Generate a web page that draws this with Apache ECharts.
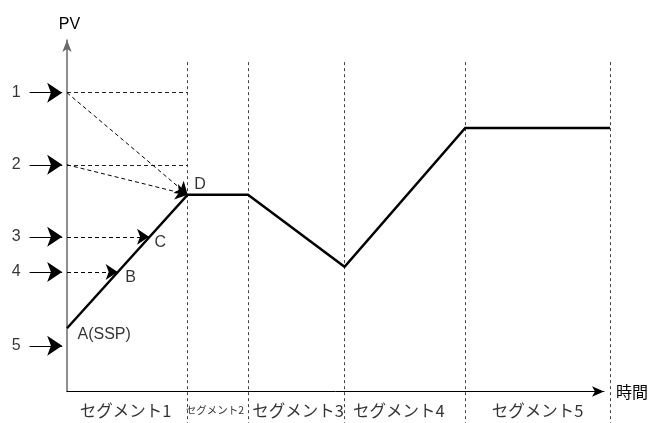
<!DOCTYPE html>
<html>
<head>
<meta charset="utf-8">
<script src="https://cdn.jsdelivr.net/npm/echarts@6/dist/echarts.min.js"></script>
<style>
html,body{margin:0;padding:0;background:#fff;}
#chart{width:651px;height:423px;}
</style>
</head>
<body>
<div id="chart"></div>
<script>
// ---- data ----
const segmentNames = ['セグメント1', 'セグメント2', 'セグメント3', 'セグメント4', 'セグメント5'];
const segmentEnds = [10, 15, 23, 33, 45];              // time at end of each segment
const segmentLabelTime = [4.85, 12.25, 19.15, 27.5, 39]; // label centres
const profileTime = [0, 10, 15, 23, 33, 45];
const profilePV = [18, 56, 56, 35.5, 75, 75];
const levelNames = ['1', '2', '3', '4', '5'];
const levelPV = [85, 64.5, 44, 34, 13];
const pointNames = ['A(SSP)', 'B', 'C', 'D'];
const pointTime = [0, 4.2, 6.8, 10];
const pointPV = [18, 34, 44, 56];
const axisNames = { x: '時間', y: 'PV' };

// ---- layout constants ----
const guideTop = 93.7, guideBottom = -9.5;
const arrowFrom = -3.1, arrowTo = -0.4, levelLabelX = -4.2, segLabelY = -5.4;
const latin = "'Liberation Sans', Arial, sans-serif";
const cjk = "'Noto Sans CJK JP', sans-serif";

const chart = echarts.init(document.getElementById('chart'), null, { renderer: 'canvas' });

const vGuides = segmentEnds.map(t => ({ coords: [[t, guideTop], [t, guideBottom]] }));
const hGuides = [0, 1].map(i => ({ coords: [[0, levelPV[i]], [segmentEnds[0], levelPV[i]]] }));
const levelArrows = levelPV.map(v => ({ coords: [[arrowFrom, v], [arrowTo, v]] }));
const Didx = 3;
const dashArrows = [
  { coords: [[0, levelPV[0]], [pointTime[Didx], pointPV[Didx]]] },
  { coords: [[0, levelPV[1]], [pointTime[Didx], pointPV[Didx]]] },
  { coords: [[0, levelPV[2]], [pointTime[2], pointPV[2]]] },
  { coords: [[0, levelPV[3]], [pointTime[1], pointPV[1]]] }
];
const pointLabelStyle = [
  { offset: [10, 6] }, { offset: [7, 6] }, { offset: [5, 6] }, { offset: [6, -10] }
];

const option = {
  animation: false,
  backgroundColor: '#fff',
  grid: { left: 67, right: 46, top: 40, bottom: 31.5 },
  xAxis: {
    type: 'value', min: 0, max: 44.5,
    name: axisNames.x, nameLocation: 'end', nameGap: 12,
    nameTextStyle: { fontFamily: cjk, fontSize: 16, color: '#000' },
    axisLine: { show: true, onZero: false, symbol: ['none', 'arrow'], symbolSize: [8, 12], lineStyle: { color: '#000', width: 1 } },
    axisTick: { show: false }, axisLabel: { show: false }, splitLine: { show: false }
  },
  yAxis: {
    type: 'value', min: 0, max: 100,
    name: axisNames.y, nameLocation: 'end', nameGap: 7,
    nameTextStyle: { fontFamily: latin, fontSize: 16, color: '#000', padding: [0, 0, 0, 5] },
    axisLine: { show: true, onZero: false, symbol: ['none', 'arrow'], symbolSize: [7, 12], lineStyle: { color: '#6a6a6a', width: 1.5 } },
    axisTick: { show: false }, axisLabel: { show: false }, splitLine: { show: false }
  },
  series: [
    {
      type: 'lines', coordinateSystem: 'cartesian2d', clip: false, silent: true,
      lineStyle: { color: '#444', width: 1, type: [3, 3], opacity: 1 },
      data: vGuides
    },
    {
      type: 'lines', coordinateSystem: 'cartesian2d', clip: false, silent: true,
      lineStyle: { color: '#222', width: 1, type: [4, 3], opacity: 1 },
      data: hGuides
    },
    {
      type: 'lines', coordinateSystem: 'cartesian2d', clip: false, silent: true,
      symbol: ['none', 'arrow'], symbolSize: [10, 15],
      lineStyle: { color: '#000', width: 1.2, type: 'solid', opacity: 1 },
      data: levelArrows
    },
    {
      type: 'lines', coordinateSystem: 'cartesian2d', clip: false, silent: true,
      symbol: ['none', 'arrow'], symbolSize: [8, 12],
      lineStyle: { color: '#000', width: 1, type: [4, 3], opacity: 1 },
      data: dashArrows
    },
    {
      type: 'lines', coordinateSystem: 'cartesian2d', polyline: true, clip: false, silent: true,
      lineStyle: { color: '#000', width: 2.5, opacity: 1, join: 'miter' },
      data: [{ coords: profileTime.map((t, i) => [t, profilePV[i]]) }]
    },
    {
      type: 'scatter', clip: false, silent: true, symbolSize: 1,
      itemStyle: { color: 'rgba(0,0,0,0)' },
      label: { show: true, position: 'right', distance: 0, formatter: p => p.name, fontFamily: latin, fontSize: 16, color: '#000' },
      data: pointNames.map((n, i) => ({ name: n, value: [pointTime[i], pointPV[i]], label: pointLabelStyle[i] }))
    },
    {
      type: 'scatter', clip: false, silent: true, symbolSize: 1,
      itemStyle: { color: 'rgba(0,0,0,0)' },
      label: { show: true, position: 'inside', formatter: p => p.name, fontFamily: latin, fontSize: 16, color: '#000' },
      data: levelNames.map((n, i) => ({ name: n, value: [levelLabelX, levelPV[i]] }))
    },
    {
      type: 'scatter', clip: false, silent: true, symbolSize: 1,
      itemStyle: { color: 'rgba(0,0,0,0)' },
      label: { show: true, position: 'inside', formatter: p => p.name, fontFamily: cjk, fontSize: 16.5, color: '#000' },
      data: segmentNames.map((n, i) => ({
        name: n, value: [segmentLabelTime[i], segLabelY],
        label: i === 1 ? { fontSize: 10.5 } : {}
      }))
    }
  ]
};
chart.setOption(option);
</script>
</body>
</html>
